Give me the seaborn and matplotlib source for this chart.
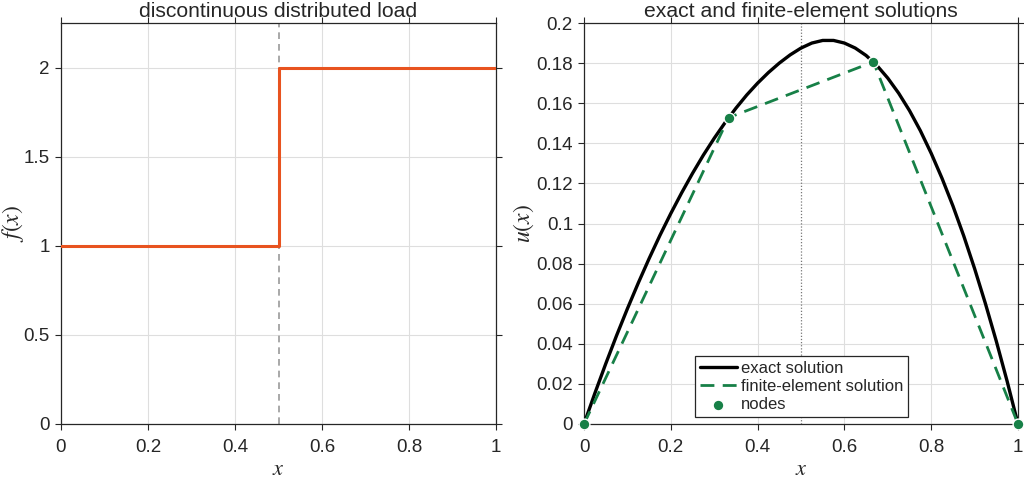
import numpy as np
import pandas as pd
import matplotlib
matplotlib.use("Agg")
import matplotlib.pyplot as plt
import seaborn as sns

# ---- data ----
load_x = [0.0, 0.5, 0.5, 1.0]
load_f = [1.0, 1.0, 2.0, 2.0]

exact_x = [0.0, 0.025, 0.05, 0.075, 0.1, 0.125, 0.15, 0.175, 0.2, 0.225, 0.25,
           0.275, 0.3, 0.325, 0.35, 0.375, 0.4, 0.425, 0.45, 0.475, 0.5,
           0.525, 0.55, 0.575, 0.6, 0.625, 0.65, 0.675, 0.7, 0.725, 0.75,
           0.775, 0.8, 0.825, 0.85, 0.875, 0.9, 0.925, 0.95, 0.975, 1.0]
exact_u = [0.0, 0.0153, 0.0300, 0.0441, 0.0575, 0.0703, 0.0825, 0.0941, 0.1050,
           0.1153, 0.1250, 0.1341, 0.1425, 0.1503, 0.1575, 0.1641, 0.1700,
           0.1753, 0.1800, 0.1841, 0.1875, 0.1900, 0.1913, 0.1913, 0.1900,
           0.1875, 0.1838, 0.1788, 0.1725, 0.1650, 0.1563, 0.1463, 0.1350,
           0.1225, 0.1088, 0.0938, 0.0775, 0.0600, 0.0413, 0.0213, 0.0]

node_x = [0.0, 1/3, 2/3, 1.0]
node_u = [0.0, 0.1528, 0.1806, 0.0]

x_ticks = [0, 0.2, 0.4, 0.6, 0.8, 1]
x_tick_labels = ["0", "0.2", "0.4", "0.6", "0.8", "1"]
f_ticks = [0, 0.5, 1, 1.5, 2]
f_tick_labels = ["0", "0.5", "1", "1.5", "2"]
u_ticks = [0, 0.02, 0.04, 0.06, 0.08, 0.1, 0.12, 0.14, 0.16, 0.18, 0.2]
u_tick_labels = ["0", "0.02", "0.04", "0.06", "0.08", "0.1", "0.12", "0.14",
                 "0.16", "0.18", "0.2"]

sns.set_theme(style="whitegrid")
plt.rcParams['font.family'] = ['Liberation Sans', 'DejaVu Sans']
plt.rcParams['mathtext.fontset'] = 'stix'

ORANGE = "#E8531F"
GREEN = "#178047"
AXC = "#262626"
GRIDC = "#dedede"

fig = plt.figure(figsize=(10.24, 4.8), dpi=100)
ax1 = fig.add_axes([61/1024, 56/480, (496-61)/1024, (424-23)/480])
ax2 = fig.add_axes([584/1024, 56/480, (1018-584)/1024, (424-23)/480])

def style(ax):
    ax.set_facecolor("white")
    ax.grid(True, color=GRIDC, linewidth=0.8)
    for s in ax.spines.values():
        s.set_visible(True)
        s.set_color(AXC)
        s.set_linewidth(0.9)
    ax.tick_params(direction="out", length=4, width=0.8, color=AXC,
                   labelsize=13.5, labelcolor=AXC, top=True, right=True,
                   bottom=True, left=True, labeltop=False, labelright=False)
    ax.tick_params(axis="x", pad=7)
    ax.tick_params(axis="y", pad=4)
    ax.set_xticks(x_ticks)
    ax.set_xticklabels(x_tick_labels)
    ax.set_xlim(0, 1)
    ax.set_xlabel(r"$x$", fontsize=16, color=AXC, labelpad=2)

# ---- left panel ----
df_load = pd.DataFrame({"x": load_x, "f": load_f})
ax1.axvline(0.5, color="#999999", linestyle=(0, (4, 3)), linewidth=1.2, zorder=1)
sns.lineplot(data=df_load, x="x", y="f", ax=ax1, color=ORANGE, linewidth=2.2,
             sort=False, estimator=None, zorder=3)
style(ax1)
ax1.set_ylim(0, 2.25)
ax1.set_yticks(f_ticks)
ax1.set_yticklabels(f_tick_labels)
ax1.set_ylabel(r"$f(x)$", fontsize=17, color=AXC)
ax1.yaxis.set_label_coords(-0.080, 0.5)
ax1.set_title("discontinuous distributed load", fontsize=15.2, color=AXC, pad=4)

# ---- right panel ----
df_exact = pd.DataFrame({"x": exact_x, "u": exact_u})
df_nodes = pd.DataFrame({"x": node_x, "u": node_u})
ax2.axvline(0.5, color="#777777", linestyle=(0, (1, 1.5)), linewidth=0.9, zorder=1)
sns.lineplot(data=df_exact, x="x", y="u", ax=ax2, color="black", linewidth=2.4,
             sort=False, estimator=None, label="exact solution", zorder=3)
sns.lineplot(data=df_nodes, x="x", y="u", ax=ax2, color=GREEN, linewidth=2.0,
             linestyle=(0, (5, 3)), sort=False, estimator=None,
             label="finite-element solution", zorder=4)
sns.scatterplot(data=df_nodes, x="x", y="u", ax=ax2, color=GREEN, s=60,
                edgecolor="white", linewidth=1.0, label="nodes", zorder=5,
                clip_on=False)
style(ax2)
ax2.set_ylim(0, 0.2)
ax2.set_yticks(u_ticks)
ax2.set_yticklabels(u_tick_labels)
ax2.set_ylabel(r"$u(x)$", fontsize=17, color=AXC)
ax2.yaxis.set_label_coords(-0.111, 0.5)
ax2.set_title("exact and finite-element solutions", fontsize=15.2, color=AXC, pad=4)

leg = ax2.legend(loc="lower left", bbox_to_anchor=(0.256, 0.017), fontsize=12,
                 frameon=True, fancybox=False, framealpha=1, edgecolor=AXC,
                 borderpad=0.3, labelspacing=0.2, handlelength=2.2,
                 handletextpad=0.25, borderaxespad=0)
leg.get_frame().set_linewidth(0.9)
for t in leg.get_texts():
    t.set_color(AXC)

fig.savefig("out.png", dpi=100, facecolor="white")
